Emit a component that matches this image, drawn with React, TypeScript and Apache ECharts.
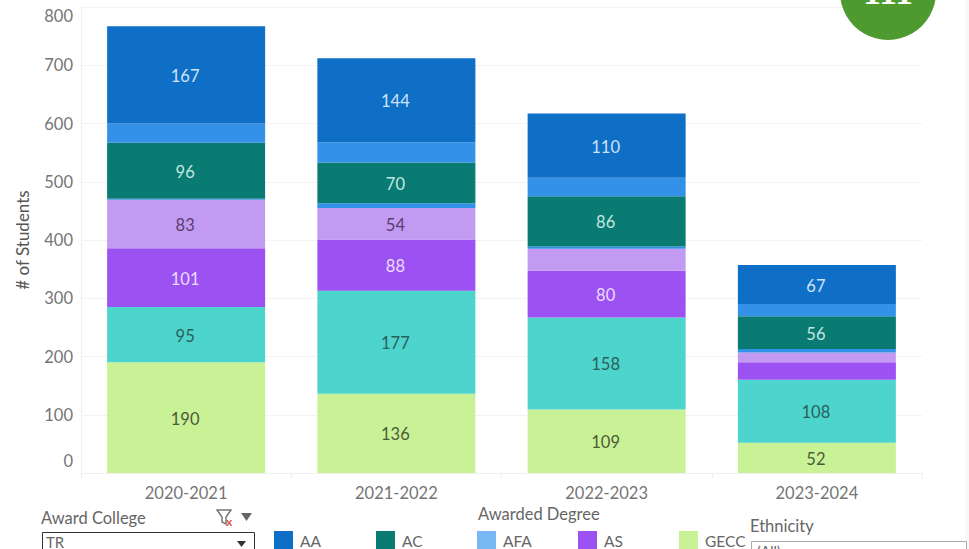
import React, { useEffect, useRef } from "react";
import * as echarts from "echarts";

const years = ["2020-2021", "2021-2022", "2022-2023", "2023-2024"];
const gecc = [190, 136, 109, 52];
const turquoise = [95, 177, 158, 108];
const as = [101, 88, 80, 30];
const lilac = [83, 54, 38, 17];
const smallBlue = [2, 8, 4, 6];
const ac = [96, 70, 86, 56];
const afa = [33, 35, 32, 21];
const aa = [167, 144, 110, 67];
const yTicks = [0, 800];

const legendNames = ["AA", "AC", "AFA", "AS", "GECC"];
const legendColors = ["#0f6fc6", "#0a7b72", "#7ab8f5", "#9c52f2", "#c9f296"];
const legendX = [274, 376, 477, 578, 679];

const FONT = "Lato, 'Open Sans', sans-serif";

function bar(name: string, data: number[], color: string, labelColor: string) {
  return {
    name,
    type: "bar",
    stack: "total",
    barWidth: 158,
    barGap: 0,
    data: data.map((value) => ({
      value,
      label: { show: value >= 50 },
    })),
    itemStyle: { color },
    label: {
      position: "inside",
      color: labelColor,
      fontSize: 16.5,
      fontFamily: FONT,
      offset: [-1, 1],
    },
  };
}

export default function App() {
  const ref = useRef<HTMLDivElement>(null);
  useEffect(() => {
    const chart = echarts.init(ref.current!, undefined, { renderer: "svg" });
    chart.setOption({
      animation: false,
      backgroundColor: "#fff",
      grid: { left: 81, right: 47, top: 7, bottom: 76 },
      xAxis: {
        type: "category",
        data: years,
        axisLine: { lineStyle: { color: "#f0f0f0" } },
        axisTick: { show: true, length: 6, lineStyle: { color: "#f0f0f0" } },
        axisLabel: { color: "#757575", fontSize: 16.5, fontFamily: FONT, margin: 11 },
      },
      yAxis: {
        type: "value",
        min: yTicks[0],
        max: yTicks[1],
        interval: 100,
        name: "# of Students",
        nameLocation: "middle",
        nameGap: 50,
        nameTextStyle: { color: "#555", fontSize: 17, fontFamily: FONT },
        axisLine: { show: true, lineStyle: { color: "#f0f0f0" } },
        axisTick: { show: false },
        splitLine: { lineStyle: { color: "#f3f3f3" } },
        axisLabel: {
          color: "#757575",
          fontSize: 16.5,
          fontFamily: FONT,
          margin: 8,
          verticalAlignMinLabel: "bottom",
          verticalAlignMaxLabel: "top",
          formatter: (v: number) => (v === 0 ? "{z|0}" : String(v)),
          rich: { z: { padding: [0, 0, 4, 0], color: "#757575", fontSize: 16.5, fontFamily: FONT } },
        },
      },
      series: [
        bar("GECC", gecc, "#c9f296", "#4d5a3a"),
        bar("Other A", turquoise, "#4dd4cc", "#2a5f5c"),
        bar("AS", as, "#9c52f2", "#ecdcff"),
        bar("Other B", lilac, "#c39af2", "#574070"),
        bar("Other C", smallBlue, "#3392e8", "#fff"),
        bar("AC", ac, "#0a7b72", "#c4e6e0"),
        bar("AFA", afa, "#3392e8", "#fff"),
        bar("AA", aa, "#0f6fc6", "#cfe3f8"),
      ],
      graphic: [
        { type: "circle", z: 20, shape: { cx: 888, cy: -8, r: 48 }, style: { fill: "#4f9a2f" } },
        {
          type: "text",
          z: 21,
          x: 888,
          y: -8,
          style: {
            text: "111",
            fill: "#fff",
            font: "bold 36px 'Liberation Serif', serif",
            align: "center",
            verticalAlign: "middle",
          },
        },
        { type: "rect", shape: { x: 965, y: 0, width: 4, height: 549 }, style: { fill: "#f8f8f8" } },
        { type: "text", x: 41, y: 509, style: { text: "Award College", font: `16.5px ${FONT}`, fill: "#666" } },
        { type: "text", x: 478, y: 505, style: { text: "Awarded Degree", font: `16.5px ${FONT}`, fill: "#666" } },
        { type: "text", x: 750, y: 517, style: { text: "Ethnicity", font: `16.5px ${FONT}`, fill: "#666" } },
        { type: "polygon", shape: { points: [[217, 510], [231, 510], [226, 517], [226, 524], [222, 522], [222, 517]] }, style: { fill: "none", stroke: "#777", lineWidth: 1.5 } },
        { type: "text", x: 226, y: 515, style: { text: "x", font: `bold 12px ${FONT}`, fill: "#d9534f" } },
        { type: "polygon", shape: { points: [[241, 513], [252, 513], [246.5, 521]] }, style: { fill: "#666" } },
        { type: "rect", shape: { x: 42.5, y: 532.5, width: 212, height: 30 }, style: { fill: "#fff", stroke: "#333", lineWidth: 1 } },
        { type: "text", x: 46, y: 534, style: { text: "TR", font: `15px ${FONT}`, fill: "#666" } },
        { type: "polygon", shape: { points: [[237, 541], [246, 541], [241.5, 547]] }, style: { fill: "#333" } },
        { type: "rect", shape: { x: 751.5, y: 541.5, width: 215, height: 30 }, style: { fill: "#fff", stroke: "#aaa", lineWidth: 1 } },
        { type: "text", x: 757, y: 543, style: { text: "(All)", font: `14px ${FONT}`, fill: "#666" } },
        ...legendNames.flatMap((name, i) => [
          { type: "rect", shape: { x: legendX[i], y: 531, width: 19, height: 18 }, style: { fill: legendColors[i] } },
          { type: "text", x: legendX[i] + 26, y: 533, style: { text: name, font: `15.5px ${FONT}`, fill: "#666" } },
        ]),
      ],
    });
    return () => chart.dispose();
  }, []);
  return <div ref={ref} style={{ position: "fixed", left: 0, top: 0, width: 969, height: 549 }} />;
}
